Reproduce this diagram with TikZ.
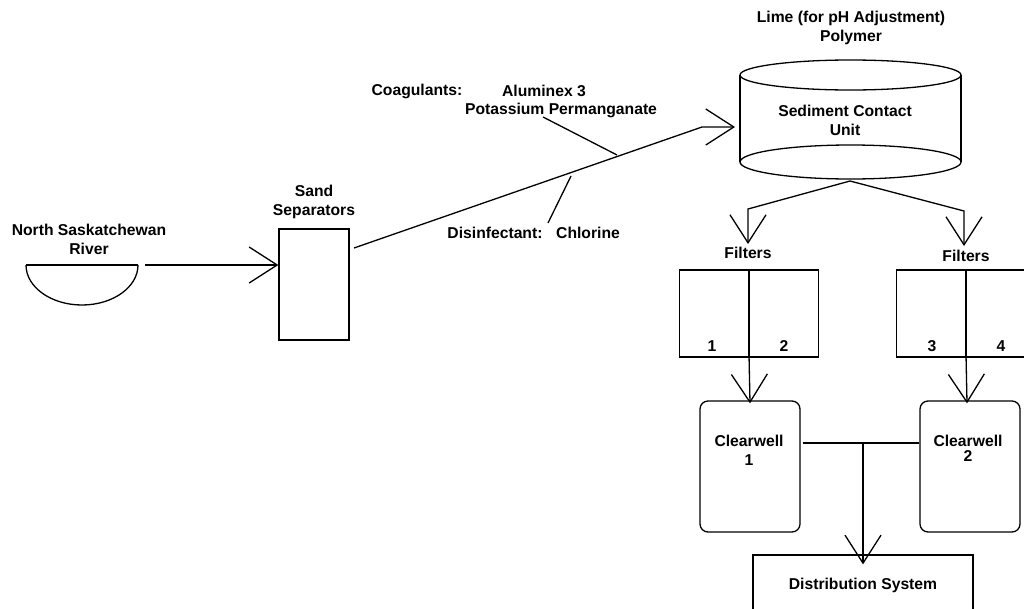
\documentclass[tikz,border=0pt]{standalone}
\usepackage{fontspec}
\setmainfont{Liberation Sans}
\usetikzlibrary{arrows.meta}
\begin{document}
\begin{tikzpicture}[x=1pt,y=-1pt,
  line width=1.3pt,
  lbl/.style={font=\bfseries\fontsize{15.7}{19}\selectfont, align=center, inner sep=0pt},
  arr/.style={-{Straight Barb[length=28pt,width=36pt]}},
  box/.style={draw, inner sep=0pt},
  wellbox/.style={draw, rounded corners=8pt, minimum width=100pt, minimum height=131pt, inner sep=0pt}]
\useasboundingbox (0,0) rectangle (1024,608);
\fill[white] (0,0) rectangle (1024,608);

% River
\node[lbl] (rivlbl) at (89,239.5) {North Saskatchewan\\River};
\begin{scope}
  \clip (20,265) rectangle (145,320);
  \draw (82,265) ellipse [x radius=56pt, y radius=40pt];
\end{scope}
\draw (26,265) -- (138,265);
\coordinate (rivout) at (145,265);

% Sand separators
\node[lbl] (sandlbl) at (314,201.5) {Sand\\Separators};
\node[box, minimum width=70pt, minimum height=111pt] (sand) at (314,284.5) {};
\draw[arr] (rivout) -- (sand.west |- rivout);
\coordinate (sandout) at (354,248);

% Sediment contact unit (cylinder)
\node[lbl] (toplbl) at (851,27.5) {Lime (for pH Adjustment)\\Polymer};
\node[minimum width=221pt, minimum height=87pt, inner sep=0pt] (scu) at (850.5,118) {};
\draw (850.5,75) ellipse [x radius=110.5pt, y radius=15pt];
\draw (850.5,162) ellipse [x radius=110.5pt, y radius=17pt];
\draw (740,75) -- (740,162);
\draw (961,75) -- (961,162);
\node[lbl] (scutxt) at (845,120) {Sediment Contact\\Unit};
\coordinate (bend) at (702,127);
\coordinate (scuin) at (735,127);
\draw[arr] (sandout) -- (bend) -- (scuin);

% Chemical feeds
\coordinate (coagA) at (543,117);
\coordinate (coagB) at (617,155);
\coordinate (chlA) at (548,223);
\coordinate (chlB) at (571,176);
\draw (coagA) -- (coagB);
\draw (chlA) -- (chlB);
\node[lbl] (coag) at (417,91) {Coagulants:};
\node[lbl] (alum) at (544,91) {Aluminex 3};
\node[lbl] (kmno) at (561,110) {Potassium Permanganate};
\node[lbl] (disin) at (495,233) {Disinfectant:};
\node[lbl] (chlor) at (588,233) {Chlorine};

% Filters
\coordinate (scuout) at (850,181);
\node[box, minimum width=139pt, minimum height=87pt] (f1) at (749,313.5) {};
\node[box, minimum width=139pt, minimum height=87pt] (f2) at (966,313.5) {};
\draw (f1.north) -- (f1.south);
\draw (f2.north) -- (f2.south);
\node[lbl] (f1lbl) at (748,253) {Filters};
\node[lbl] (f2lbl) at (966,256) {Filters};
\draw[arr] (scuout) -- (748,209) -- (748,244);
\draw[arr] (scuout) -- (964,211) -- (964,246);
\node[lbl] (n1) at (712,346) {1};
\node[lbl] (n2) at (784,346) {2};
\node[lbl] (n3) at (932,346) {3};
\node[lbl] (n4) at (1001,346) {4};

% Clearwells
\node[wellbox] (cw1) at (750,466.5) {};
\node[wellbox] (cw2) at (970,466.5) {};
\node[lbl] (cw1lbl) at (749,450) {Clearwell\\1};
\node[lbl, font=\bfseries\fontsize{15.7}{15}\selectfont] (cw2lbl) at (968,448) {Clearwell\\2};
\draw[arr] ([yshift=3pt]f1.south) -- ([yshift=-3pt]cw1.north);
\draw[arr] ([yshift=3pt]f2.south) -- ([xshift=-3pt,yshift=-3pt]cw2.north);

% Distribution
\node[box, minimum width=220pt, minimum height=65pt] (dist) at (863,587.5) {};
\node[lbl] (distlbl) at (863,585) {Distribution System};
\coordinate (junc) at (863,443);
\draw ([xshift=2pt]cw1.east |- junc) -- (cw2.west |- junc);
\draw[arr] (junc) -- ([yshift=-10pt]dist.north);
\end{tikzpicture}
\end{document}
